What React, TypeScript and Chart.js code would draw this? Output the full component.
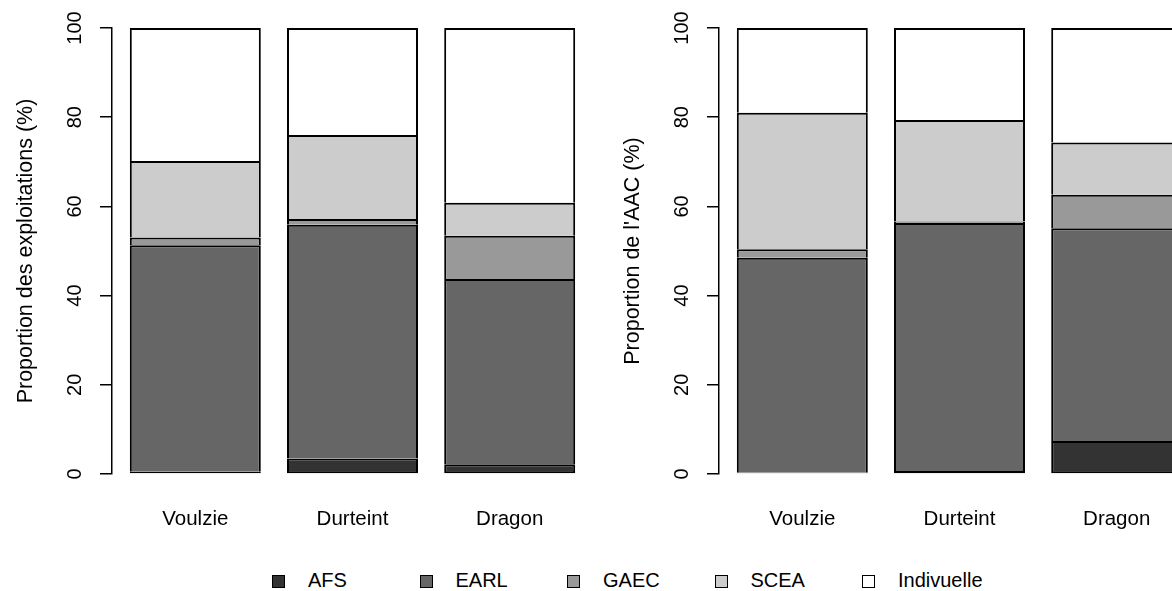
import React, { useEffect, useRef } from 'react';
import { Chart, registerables } from 'chart.js';

Chart.register(...registerables);

// ---------- data ----------
const categories = ['Voulzie', 'Durteint', 'Dragon'];
const seriesNames = ['AFS', 'EARL', 'GAEC', 'SCEA', 'Indivuelle'];
const yTicks = [0, 20, 40, 60, 80, 100];

// Proportion des exploitations (%)
const exploitAFS = [0.5, 3.5, 2.2];
const exploitEARL = [50.8, 52.4, 41.5];
const exploitGAEC = [1.7, 1.3, 9.7];
const exploitSCEA = [17.2, 18.8, 7.4];
const exploitIndiv = [29.8, 24.0, 39.2];

// Proportion de l'AAC (%)
const aacAFS = [0.3, 0.7, 7.4];
const aacEARL = [48.2, 55.6, 47.7];
const aacGAEC = [1.9, 0.3, 7.5];
const aacSCEA = [30.6, 22.8, 11.7];
const aacIndiv = [19.0, 20.6, 25.7];

// ---------- styles ----------
const FILLS = ['#333333', '#666666', '#999999', '#cccccc', '#ffffff'];
const FONT = "'Liberation Sans', Arial, Helvetica, sans-serif";

// barplot geometry (bar width 1, space 0.2, 4% axis extension)
const BAR_W = 1;
const SPACE = 0.2;
const centerOf = (i: number) => SPACE + BAR_W / 2 + i * (BAR_W + SPACE);
const rawMin = SPACE;
const rawMax = SPACE + categories.length * (BAR_W + SPACE) - SPACE;
const ext = (rawMax - rawMin) * 0.04;
const X_MIN = rawMin - ext;
const X_MAX = rawMax + ext;

const CANVAS_W = 600;
const CANVAS_H = 560;

function Panel({ left, yTitle, values }: { left: number; yTitle: string; values: number[][] }) {
  const ref = useRef<HTMLCanvasElement | null>(null);
  useEffect(() => {
    if (!ref.current) return;
    const chart = new Chart(ref.current, {
      type: 'bar',
      data: {
        datasets: seriesNames.map((name, s) => ({
          label: name,
          data: categories.map((_, i) => ({ x: centerOf(i), y: values[s][i] })),
          backgroundColor: FILLS[s],
          borderColor: '#000000',
          borderWidth: 2,
          borderSkipped: s === 0 ? false : 'start',
          barPercentage: BAR_W / (BAR_W + SPACE),
          categoryPercentage: 1,
        })),
      },
      options: {
        animation: false,
        responsive: false,
        devicePixelRatio: 1,
        layout: { padding: { top: 28, right: 7, left: 0, bottom: 0 } },
        plugins: { legend: { display: false }, tooltip: { enabled: false } },
        scales: {
          x: {
            type: 'linear',
            stacked: true,
            offset: false,
            min: X_MIN,
            max: X_MAX,
            grid: { display: false, drawTicks: false, offset: false },
            border: { display: false },
            afterBuildTicks: (scale: any) => {
              scale.ticks = categories.map((_, i) => ({ value: centerOf(i) }));
            },
            afterFit: (scale: any) => {
              scale.height = CANVAS_H - 474;
            },
            ticks: {
              autoSkip: false,
              minRotation: 0,
              maxRotation: 0,
              padding: 33,
              color: '#000000',
              font: { family: FONT, size: 20.5 },
              callback: (_v: any, i: number) => categories[i],
            },
          },
          y: {
            type: 'linear',
            stacked: true,
            min: 0,
            max: 100,
            afterBuildTicks: (scale: any) => {
              scale.ticks = yTicks.map((v) => ({ value: v }));
            },
            afterFit: (scale: any) => {
              scale.width = 112;
            },
            grid: {
              drawOnChartArea: false,
              drawTicks: true,
              tickLength: 12,
              color: '#000000',
              lineWidth: 1.5,
            },
            border: { display: true, color: '#000000', width: 1.5 },
            ticks: {
              minRotation: 90,
              maxRotation: 90,
              crossAlign: 'center',
              padding: 8,
              color: '#000000',
              font: { family: FONT, size: 20 },
            },
            title: {
              display: true,
              text: yTitle,
              color: '#000000',
              font: { family: FONT, size: 21.5 },
              padding: { top: 13, bottom: 0 },
            },
          },
        },
      } as any,
    });
    return () => chart.destroy();
  }, []);
  return (
    <canvas
      ref={ref}
      width={CANVAS_W}
      height={CANVAS_H}
      style={{ position: 'absolute', left, top: 0, width: CANVAS_W, height: CANVAS_H }}
    />
  );
}

const LEGEND_X0 = 272;
const LEGEND_STEP = 147.5;

export default function App() {
  return (
    <div
      style={{
        position: 'fixed',
        left: 0,
        top: 0,
        width: 1172,
        height: 591,
        overflow: 'hidden',
        background: '#ffffff',
        fontFamily: FONT,
      }}
    >
      <Panel
        left={0}
        yTitle="Proportion des exploitations (%)"
        values={[exploitAFS, exploitEARL, exploitGAEC, exploitSCEA, exploitIndiv]}
      />
      <Panel
        left={607}
        yTitle="Proportion de l'AAC (%)"
        values={[aacAFS, aacEARL, aacGAEC, aacSCEA, aacIndiv]}
      />
      {seriesNames.map((name, s) => (
        <div key={name}>
          <div
            style={{
              position: 'absolute',
              left: LEGEND_X0 + s * LEGEND_STEP,
              top: 575,
              width: 11,
              height: 11,
              background: FILLS[s],
              border: '1.5px solid #000',
            }}
          />
          <div
            style={{
              position: 'absolute',
              left: LEGEND_X0 + 36 + s * LEGEND_STEP,
              top: 570,
              fontSize: 20,
              lineHeight: '20px',
              color: '#000',
              whiteSpace: 'nowrap',
            }}
          >
            {name}
          </div>
        </div>
      ))}
    </div>
  );
}
